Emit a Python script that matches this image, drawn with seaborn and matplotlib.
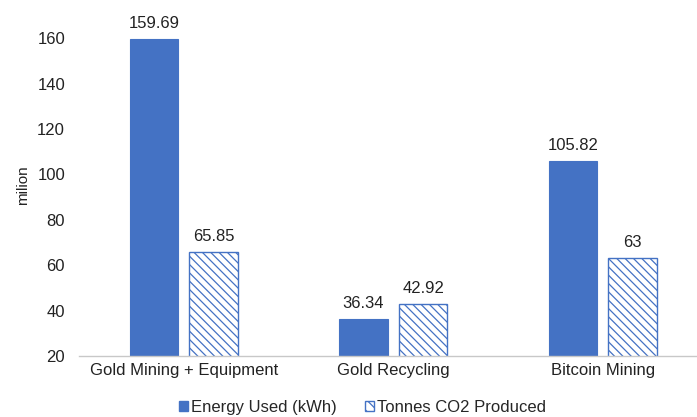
import matplotlib
matplotlib.use("Agg")
import matplotlib.pyplot as plt
from matplotlib.patches import Patch
import seaborn as sns
import pandas as pd

categories = ["Gold Mining + Equipment", "Gold Recycling", "Bitcoin Mining"]
series_names = ["Energy Used (kWh)", "Tonnes CO2 Produced"]
energy_used = [159.69, 36.34, 105.82]
co2_produced = [65.85, 42.92, 63]
y_ticks = [20, 40, 60, 80, 100, 120, 140, 160]

blue = "#4472C4"

df = pd.DataFrame({
    "category": categories * 2,
    "series": [series_names[0]] * 3 + [series_names[1]] * 3,
    "value": energy_used + co2_produced,
})

sns.set_theme(style="white")
plt.rcParams["font.family"] = ["Liberation Sans", "DejaVu Sans"]
plt.rcParams["hatch.linewidth"] = 0.9
plt.rcParams["hatch.color"] = blue

fig = plt.figure(figsize=(6.97, 4.17), dpi=100)
ax = fig.add_axes([79 / 697, 61 / 417, 618 / 697, 356 / 417])

sns.barplot(data=df, x="category", y="value", hue="series",
            palette=[blue, blue], width=0.57, gap=0.19,
            ax=ax, legend=False, saturation=1)

# second series: white fill with blue diagonal hatching
for patch in ax.containers[1]:
    patch.set_facecolor("white")
    patch.set_edgecolor(blue)
    patch.set_hatch("\\\\\\\\")
    patch.set_linewidth(1.0)
for patch in ax.containers[0]:
    patch.set_edgecolor(blue)
    patch.set_linewidth(0.8)

for cont in ax.containers:
    ax.bar_label(cont, labels=[f"{v:g}" for v in cont.datavalues],
                 padding=6, fontsize=12, color="#222222")

ax.set_ylim(20, 176.9)
ax.set_xlim(-0.5, 2.45)
ax.set_yticks(y_ticks)
ax.tick_params(axis="both", length=0, labelsize=12, colors="#222222")
ax.tick_params(axis="x", pad=5)
ax.tick_params(axis="y", pad=10)
ax.set_xlabel("")
ax.set_ylabel("milion", fontsize=11, color="#222222")
ax.yaxis.set_label_coords(-0.08, 0.48)

for side in ["top", "right", "left"]:
    ax.spines[side].set_visible(False)
ax.spines["bottom"].set_color("#c8c8c8")
ax.spines["bottom"].set_linewidth(1.0)

handles = [
    Patch(facecolor=blue, edgecolor=blue, label=series_names[0]),
    Patch(facecolor="white", edgecolor=blue, hatch="\\\\\\", label=series_names[1]),
]
fig.legend(handles=handles, loc="center", bbox_to_anchor=(0.52, 0.022),
           ncol=2, frameon=False, fontsize=12, handlelength=0.55,
           handleheight=0.55, handletextpad=0.15, columnspacing=1.7)

fig.savefig("out.png", dpi=100, facecolor="white")
